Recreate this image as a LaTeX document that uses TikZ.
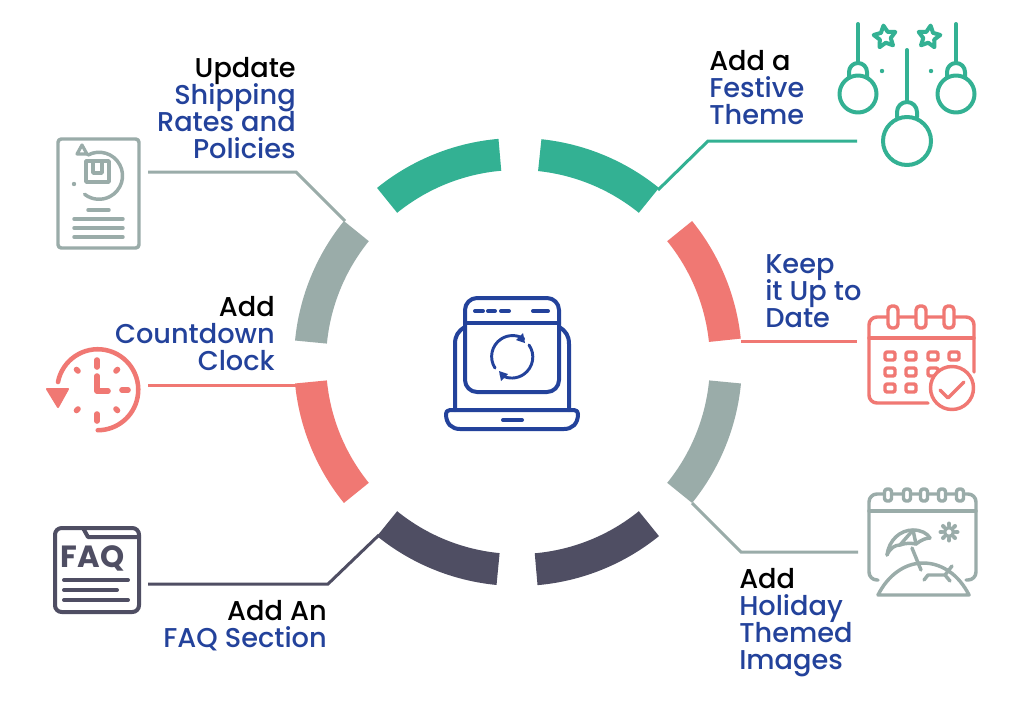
\documentclass[tikz,border=0pt]{standalone}
\usepackage{fontspec}
\setmainfont{Poppins Medium}
\newfontfamily\faqfont{Poppins}
\definecolor{teal}{HTML}{33B193}
\definecolor{salmon}{HTML}{F07873}
\definecolor{slate}{HTML}{9AACA9}
\definecolor{ink}{HTML}{4F4E63}
\definecolor{royal}{HTML}{23429B}
\newcommand{\firstline}{\rule{0pt}{15pt}}
\lineskiplimit=-20pt
% ring segment between two angles, measured counter-clockwise from east
\newcommand{\ringseg}[3]{%
  \fill[#3] (-#1:224) arc[start angle=-#1,end angle=-#2,radius=224]
    -- (-#2:192) arc[start angle=-#2,end angle=-#1,radius=192] -- cycle;}
% five-pointed star outline
\newcommand{\starshape}[3]{%
  \draw[#3] (#1) ++(-90+#2:11.5) -- ++(0,0)
    \foreach \k in {0,...,4} {
      -- ($(#1)+(-90+#2+72*\k:11.5)$) -- ($(#1)+(-54+#2+72*\k:5.8)$) } -- cycle;}
\usetikzlibrary{calc}
\tikzset{
  lbl/.style={inner sep=0pt,font=\fontsize{20.4pt}{20.25pt}\selectfont,text=royal},
  lblR/.style={lbl,anchor=north east,align=right},
  lblL/.style={lbl,anchor=north west,align=left},
  link/.style={line width=2.25pt},
  icon/.style={line width=2.6pt,line cap=round,line join=round},
  thick icon/.style={line width=3pt,line cap=round,line join=round},
}
\begin{document}
\begin{tikzpicture}[x=0.75pt,y=-0.75pt]
\useasboundingbox (0,0) rectangle (1024,714);
\fill[white] (0,0) rectangle (1024,714);

% ring
\begin{scope}[shift={(518,362)}]
  \ringseg{84}{51}{teal}
  \ringseg{39}{6}{salmon}
  \ringseg{-5.5}{-39}{slate}
  \ringseg{-51}{-85}{ink}
  \ringseg{-95.5}{-129}{ink}
  \ringseg{-141}{-174.5}{salmon}
  \ringseg{174.5}{141}{slate}
  \ringseg{129}{95}{teal}
\end{scope}

% connector ends
\coordinate (festive) at (857,141);
\coordinate (festiveSeg) at (658,190);
\coordinate (dateIcon) at (857,341);
\coordinate (dateSeg) at (741,341);
\coordinate (imagesIcon) at (858,552);
\coordinate (imagesSeg) at (692,503);
\coordinate (shipIcon) at (148,172);
\coordinate (shipSeg) at (345,221);
\coordinate (clockIcon) at (148,385);
\coordinate (clockSeg) at (297,385);
\coordinate (faqIcon) at (148,584);
\coordinate (faqSeg) at (379,535);

\draw[link,teal] (festive) -- (708,141) -- (festiveSeg);
\draw[link,salmon] (dateSeg) -- (dateIcon);
\draw[link,slate] (imagesSeg) -- (741,552) -- (imagesIcon);
\draw[link,slate] (shipIcon) -- (296,172) -- (shipSeg);
\draw[link,salmon] (clockIcon) -- (clockSeg);
\draw[link,ink] (faqIcon) -- (328,584) -- (faqSeg);

% labels
\node[lblR] (shipLabel) at (296,57) {\firstline\textcolor{black}{Update}\\Shipping\\Rates and\\Policies};
\node[lblR] (clockLabel) at (275,296) {\firstline\textcolor{black}{Add}\\Countdown\\Clock};
\node[lblR] (faqLabel) at (327,600) {\firstline\textcolor{black}{Add An}\\FAQ Section};
\node[lblL] (festiveLabel) at (709,50) {\firstline\textcolor{black}{Add a}\\Festive\\Theme};
\node[lblL] (dateLabel) at (765,253) {\firstline Keep\\it Up to\\Date};
\node[lblL] (imagesLabel) at (739,568) {\firstline\textcolor{black}{Add}\\Holiday\\Themed\\Images};

% laptop with refresh arrows
\begin{scope}[royal,thick icon]
  \draw[rounded corners=9pt] (465,298) rectangle (559,392);
  \draw (465,323) -- (559,323);
  \draw (475,311) -- (483,311) (488,311) -- (495,311) (501,311) -- (509,311) (533,311) -- (548,311);
  \draw (465,327) .. controls (458,331) and (455,336) .. (455,344) -- (455,410);
  \draw (559,327) .. controls (566,331) and (569,336) .. (569,344) -- (569,410);
  \draw (450,410) -- (574,410) .. controls (577,410) and (578,412) .. (578,414)
    .. controls (578,424) and (572,429) .. (564,429) -- (460,429)
    .. controls (452,429) and (446,424) .. (446,414)
    .. controls (446,412) and (447,410) .. (450,410) -- cycle;
  \draw (503,420) -- (522,420);
  \draw[line width=2.2pt] (495,368) arc[start angle=147,end angle=302,radius=21];
  \draw[line width=2.2pt] (529,345) arc[start angle=-35,end angle=121,radius=21];
  \fill (523,333) -- (525,343) -- (516,340) -- cycle;
  \fill (501,381) -- (499,371) -- (508,374) -- cycle;
\end{scope}

% baubles and stars
\begin{scope}[teal,icon,line width=3pt]
  \draw (858,24) -- (858,63);
  \draw (849,77) -- (849,72) arc[start angle=180,end angle=360,radius=9] -- (867,77);
  \draw (858,94) circle[radius=18.5];
  \draw (956,24) -- (956,63);
  \draw (947,77) -- (947,72) arc[start angle=180,end angle=360,radius=9] -- (965,77);
  \draw (956,94) circle[radius=18.5];
  \draw (907,50) -- (907,102);
  \draw (897,117) -- (897,112) arc[start angle=180,end angle=360,radius=10] -- (917,117);
  \draw (907,141) circle[radius=24];
  \coordinate (starA) at (885,37);
  \coordinate (starB) at (929,37);
  \starshape{starA}{-8}{}
  \starshape{starB}{8}{}
  \fill (882,71) circle[radius=2.2];
  \fill (931,71) circle[radius=2.2];
\end{scope}

% calendar with check mark
\begin{scope}[salmon,icon]
  \draw (928,403) -- (877,403) arc[start angle=90,end angle=180,radius=8] -- (869,325) arc[start angle=180,end angle=270,radius=8] -- (966,317) arc[start angle=270,end angle=360,radius=8] -- (974,372);
  \draw (869,338) -- (974,338);
  \foreach \x in {893,921,949}
    \draw[fill=white,rounded corners=3pt] (\x-5,306) rectangle (\x+5,328);
  \foreach \x/\y in {890/356,911/356,933/356,954/356,890/372,911/372,933/372,890/388,911/388}
    \draw[rounded corners=1.6pt] (\x-5,\y-4) rectangle (\x+5,\y+4);
  \draw[fill=white] (952,388) circle[radius=21.5];
  \draw (940,390) -- (948,398) -- (964,382);
\end{scope}

% calendar with beach scene
\begin{scope}[slate,icon]
  \draw[rounded corners=6pt] (878,580) -- (869,580) -- (869,494) -- (976,494) -- (976,580) -- (966,580);
  \draw (869,511) -- (976,511);
  \foreach \x in {888,907,924,942,960}
    \draw[fill=white,rounded corners=2pt] (\x-3.5,489) rectangle (\x+3.5,501);
  \draw[fill=white] (878,595) .. controls (888,575) and (905,563) .. (923,563) .. controls (942,563) and (959,575) .. (969,595) -- cycle;
  \draw (887,555) .. controls (889,540) and (900,530) .. (913,530) .. controls (921,530) and (927,533) .. (930,538);
  \draw (887,555) .. controls (890,548) and (895,545) .. (900,545) .. controls (905,543) and (911,543) .. (916,544) .. controls (921,540) and (926,538) .. (930,538);
  \draw (913,530) -- (900,545) (913,530) -- (916,544);
  \draw (912,548) -- (921,570);
  \draw (924,580) -- (928,575) -- (945,575) -- (952,566) (945,575) -- (950,581);
  \draw (949,532) circle[radius=4.5];
  \foreach \a in {0,45,...,315}
    \draw[line width=3pt] ($(949,532)+(\a:7)$) -- ($(949,532)+(\a:8.5)$);
\end{scope}

% shipping policy sheet
\begin{scope}[slate,icon]
  \draw[rounded corners=2.5pt] (58,139) rectangle (139,248);
  \draw (88,210) -- (109,210);
  \foreach \y in {219,228,237} \draw (74,\y) -- (123,\y);
  \draw (88,155) arc[start angle=-118,end angle=128,radius=23.5];
  \draw[fill=white,line width=2.4pt] (82,145) -- (77,154) -- (87,154) -- cycle;
  \fill (74,184) circle[radius=2.2];
  \draw (86,161) rectangle (109,182);
  \draw (93,161) -- (93,173) -- (102,173) -- (102,161);
\end{scope}

% countdown clock
\begin{scope}[salmon,icon]
  \draw[line width=3.4pt] (58,382) arc[start angle=191,end angle=450,radius=40.5];
  \fill[line join=round,line width=1.5pt,draw=salmon] (47,389) -- (68,389) -- (58,407) -- cycle;
  \draw[line width=4.2pt] (97,360) -- (97,367) (97,414) -- (97,421) (122,390) -- (128,390);
  \draw[line width=4.2pt] (76.5,369.5) -- (78,371) (117.5,369.5) -- (116,371) (76.5,410.5) -- (78,409) (117.5,410.5) -- (116,409);
  \draw[line width=4.2pt] (97,376) -- (97,391) -- (108,391);
\end{scope}

% FAQ page
\begin{scope}[ink,icon,line width=3pt]
  \draw[rounded corners=5pt] (55,528) rectangle (139,612);
  \draw (83,528) -- (88,537) -- (139,537);
  \node[inner sep=0pt,text=ink,font=\faqfont\bfseries\fontsize{23pt}{23pt}\selectfont] (faqWord) at (92.5,558.5) {FAQ};
  \draw (64,580) -- (128,580) (64,590) -- (117,590) (64,600) -- (128,600);
\end{scope}
\end{tikzpicture}
\end{document}
